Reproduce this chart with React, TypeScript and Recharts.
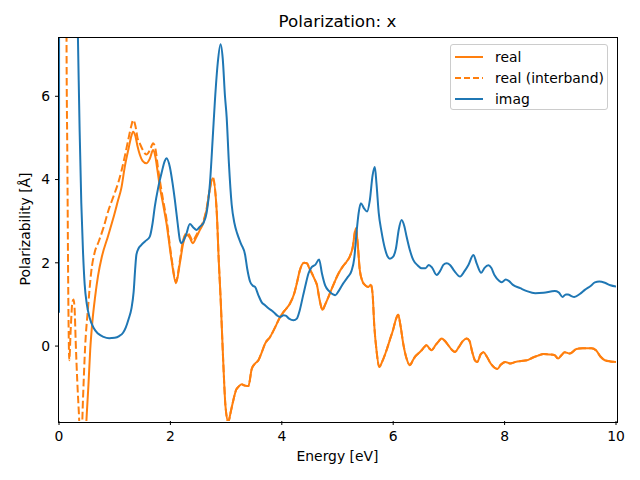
import { Line, LineChart, XAxis, YAxis } from "recharts"

const ORANGE = "#ff7f0e"
const BLUE = "#1f77b4"
const FONT = "DejaVu Sans, sans-serif"

const xTicks = [0, 2, 4, 6, 8, 10]
const yTicks = [0, 2, 4, 6]

// imag part
const imagE = [
    0, 0.01, 0.1, 0.2, 0.28, 0.34, 0.37, 0.4, 0.43, 0.46, 0.5, 0.55, 0.62, 0.7, 0.8, 0.9, 1.0, 1.08, 1.15, 1.2,
    1.25, 1.3, 1.34, 1.37, 1.39, 1.43, 1.48, 1.55, 1.63, 1.68, 1.72, 1.78, 1.84, 1.9, 1.93, 1.99, 2.04, 2.08,
    2.13, 2.17, 2.2, 2.24, 2.28, 2.35, 2.41, 2.47, 2.53, 2.59, 2.65, 2.71, 2.76, 2.8, 2.85, 2.9, 2.94, 2.98,
    3.01, 3.05, 3.1, 3.15, 3.2, 3.27, 3.34, 3.38, 3.43, 3.48, 3.52, 3.58, 3.64, 3.7, 3.76, 3.85, 3.92, 3.97,
    4.03, 4.07, 4.13, 4.21, 4.27, 4.32, 4.38, 4.42, 4.48, 4.54, 4.6, 4.67, 4.72, 4.78, 4.85, 4.92, 4.96, 5.02,
    5.1, 5.18, 5.25, 5.3, 5.34, 5.38, 5.42, 5.48, 5.53, 5.58, 5.63, 5.67, 5.7, 5.74, 5.79, 5.85, 5.9, 5.94,
    6.0, 6.05, 6.1, 6.15, 6.2, 6.24, 6.3, 6.36, 6.43, 6.51, 6.58, 6.64, 6.7, 6.78, 6.85, 6.9, 6.96, 7.02,
    7.1, 7.2, 7.28, 7.35, 7.44, 7.5, 7.58, 7.64, 7.71, 7.76, 7.82, 7.9, 7.95, 8.02, 8.08, 8.15, 8.28, 8.4,
    8.55, 8.7, 8.9, 8.97, 9.04, 9.1, 9.14, 9.2, 9.25, 9.35, 9.44, 9.55, 9.62, 9.7, 9.8, 9.9, 10.0,
]
const imagV = [
    0.8, 60, 40, 20, 11, 7.4, 5.2, 3.45, 2.3, 1.5, 1.0, 0.68, 0.44, 0.3, 0.22, 0.19, 0.2, 0.24, 0.32, 0.45,
    0.65, 0.9, 1.3, 1.9, 2.2, 2.35, 2.43, 2.52, 2.63, 2.95, 3.35, 3.8, 4.15, 4.45, 4.51, 4.3, 3.9, 3.51,
    2.95, 2.55, 2.47, 2.55, 2.67, 2.93, 2.85, 2.79, 2.87, 2.95, 3.2, 3.91, 5.0, 5.91, 6.8, 7.25, 6.9, 6.0,
    5.5, 4.4, 3.4, 2.95, 2.7, 2.45, 2.2, 1.85, 1.55, 1.45, 1.42, 1.22, 1.05, 0.98, 0.91, 0.82, 0.73, 0.7,
    0.74, 0.73, 0.66, 0.62, 0.66, 0.85, 1.2, 1.43, 1.75, 1.9, 1.95, 2.08, 1.75, 1.45, 1.32, 1.24, 1.22, 1.32,
    1.5, 1.65, 1.8, 2.1, 2.7, 3.2, 3.43, 3.3, 3.23, 3.5, 4.1, 4.3, 3.9, 3.2, 2.75, 2.35, 2.15, 2.1,
    2.15, 2.35, 2.8, 3.03, 2.88, 2.63, 2.3, 2.07, 1.95, 1.87, 1.87, 1.95, 1.88, 1.71, 1.82, 1.95, 1.99, 1.95,
    1.8, 1.67, 1.8, 1.95, 2.19, 1.98, 1.76, 1.88, 1.94, 1.88, 1.7, 1.57, 1.53, 1.6, 1.56, 1.47, 1.39, 1.32,
    1.27, 1.28, 1.32, 1.29, 1.18, 1.24, 1.24, 1.2, 1.18, 1.25, 1.35, 1.45, 1.53, 1.55, 1.52, 1.46, 1.43,
]

// real part
const realE = [
    0.4, 0.45, 0.5, 0.53, 0.56, 0.6, 0.65, 0.7, 0.77, 0.88, 0.97, 1.06, 1.12, 1.18, 1.25, 1.3, 1.33, 1.37,
    1.41, 1.45, 1.5, 1.57, 1.63, 1.69, 1.73, 1.77, 1.81, 1.87, 1.93, 2.02, 2.1, 2.17, 2.23, 2.3, 2.35, 2.4,
    2.46, 2.53, 2.59, 2.65, 2.7, 2.76, 2.83, 2.87, 2.9, 2.95, 2.99, 3.04, 3.08, 3.13, 3.18, 3.22, 3.28, 3.34,
    3.4, 3.46, 3.52, 3.58, 3.64, 3.7, 3.79, 3.88, 3.97, 4.05, 4.15, 4.22, 4.27, 4.32, 4.36, 4.4, 4.45, 4.5,
    4.54, 4.59, 4.63, 4.68, 4.73, 4.78, 4.84, 4.92, 5.02, 5.1, 5.16, 5.22, 5.27, 5.33, 5.36, 5.4, 5.45, 5.49,
    5.55, 5.6, 5.63, 5.66, 5.7, 5.75, 5.81, 5.88, 5.94, 6.0, 6.05, 6.09, 6.13, 6.18, 6.24, 6.3, 6.35, 6.39,
    6.45, 6.51, 6.56, 6.6, 6.65, 6.69, 6.76, 6.82, 6.87, 6.93, 7.0, 7.06, 7.11, 7.18, 7.25, 7.32, 7.37, 7.42,
    7.47, 7.51, 7.57, 7.62, 7.68, 7.75, 7.82, 7.87, 7.93, 8.01, 8.1, 8.2, 8.3, 8.4, 8.5, 8.6, 8.7, 8.8, 8.9,
    8.96, 9.02, 9.08, 9.17, 9.29, 9.4, 9.56, 9.64, 9.72, 9.8, 9.9, 10.0,
]
const realV = [
    -5, -3, -1.6, -0.9, -0.1, 0.6, 1.2, 1.68, 2.15, 2.64, 3.05, 3.5, 3.8, 4.3, 4.75, 5.05, 5.15, 5.05,
    4.8, 4.6, 4.45, 4.39, 4.5, 4.71, 4.55, 4.2, 3.83, 3.4, 2.95, 2.07, 1.51, 1.99, 2.47, 2.67, 2.6, 2.47,
    2.6, 2.79, 2.95, 3.27, 3.7, 4.03, 3.27, 2.0, 1.19, -0.42, -1.46, -1.82, -1.6, -1.3, -1.05, -0.98, -0.92, -0.95,
    -0.96, -0.55, -0.42, -0.34, -0.15, 0.06, 0.22, 0.45, 0.7, 0.85, 1.03, 1.25, 1.51, 1.8, 1.95, 2.0, 1.99, 1.85,
    1.75, 1.6, 1.47, 1.1, 0.87, 1.0, 1.19, 1.45, 1.75, 1.92, 2.02, 2.15, 2.35, 2.83, 2.5, 1.83, 1.55, 1.47,
    1.42, 1.47, 1.25, 0.5, -0.1, -0.5, -0.35, -0.1, 0.15, 0.4, 0.65, 0.75, 0.5, 0.06, -0.3, -0.46, -0.35, -0.26,
    -0.18, -0.1, -0.02, 0.02, -0.06, -0.1, 0.02, 0.12, 0.18, 0.12, 0.0, -0.1, -0.14, -0.02, 0.12, 0.18, 0.12, -0.15,
    -0.35, -0.38, -0.2, -0.15, -0.25, -0.42, -0.52, -0.55, -0.45, -0.38, -0.42, -0.38, -0.36, -0.34, -0.28, -0.23, -0.19, -0.2, -0.22,
    -0.3, -0.22, -0.15, -0.18, -0.07, -0.05, -0.05, -0.1, -0.25, -0.34, -0.37, -0.38,
]

// real (interband) below 2.8 eV; above it follows the real curve
const interE = [
    0.05, 0.12, 0.135, 0.15, 0.165, 0.185, 0.21, 0.24, 0.26, 0.28, 0.3, 0.33, 0.36, 0.38, 0.4, 0.43, 0.47,
    0.52, 0.58, 0.64, 0.71, 0.8, 0.89, 0.98, 1.06, 1.12, 1.18, 1.25, 1.3, 1.33, 1.37, 1.41, 1.45, 1.5, 1.57,
    1.63, 1.69, 1.73, 1.78, 1.82, 1.87, 1.93, 2.02, 2.1, 2.17, 2.23, 2.3, 2.35, 2.4, 2.46, 2.53, 2.59, 2.65,
    2.7, 2.76,
]
const interV = [
    40, 20, 7.4, 4.5, 1.5, -0.34, 0.4, 1.05, 1.12, 0.9, 0.1, -0.9, -1.7, -2.3, -2.4, -1.3, 0.0,
    0.9, 1.8, 2.25, 2.5, 2.85, 3.27, 3.6, 3.91, 4.2, 4.55, 5.0, 5.3, 5.43, 5.3, 5.0, 4.87, 4.72, 4.6,
    4.7, 4.87, 4.75, 4.25, 3.9, 3.5, 3.05, 2.12, 1.55, 2.05, 2.55, 2.72, 2.65, 2.52, 2.65, 2.83, 3.0, 3.3,
    3.72, 4.05,
]

const toPoints = (es: number[], vs: number[]) => es.map((e, i) => ({ e, v: vs[i] }))

const imagData = toPoints(imagE, imagV)
const realData = toPoints(realE, realV)
const interData = [...toPoints(interE, interV), ...realData.filter((p) => p.e > 2.8)]

const legendItems = [
    { name: "real", color: ORANGE, dash: undefined },
    { name: "real (interband)", color: ORANGE, dash: "6 3" },
    { name: "imag", color: BLUE, dash: undefined },
]

function PlotLegend() {
    return (
        <div
            style={{
                position: "absolute",
                left: 450,
                top: 44,
                width: 158,
                height: 66,
                border: "1px solid #cccccc",
                borderRadius: 3,
                background: "rgba(255,255,255,0.8)",
                fontFamily: FONT,
                fontSize: 13.9,
                color: "#000",
                boxSizing: "border-box",
                paddingTop: 1,
            }}
        >
            {legendItems.map((it) => (
                <div key={it.name} style={{ display: "flex", alignItems: "center", height: 21.3 }}>
                    <svg width={44} height={10} style={{ flex: "none" }}>
                        <line x1={4} x2={32} y1={5} y2={5} stroke={it.color} strokeWidth={2} strokeDasharray={it.dash} />
                    </svg>
                    <span>{it.name}</span>
                </div>
            ))}
        </div>
    )
}

const tickStyle = { fill: "#000", fontSize: 13.9, fontFamily: FONT }

export default function App() {
    return (
        <div style={{ position: "absolute", left: 0, top: 0, width: 640, height: 480, background: "#fff" }}>
            <LineChart width={640} height={480} margin={{ top: 38, right: 24, bottom: 0, left: 0 }}>
                <XAxis
                    type="number"
                    dataKey="e"
                    domain={[0, 10]}
                    ticks={xTicks}
                    allowDataOverflow
                    height={59}
                    axisLine={false}
                    tickLine={{ stroke: "#000" }}
                    tickSize={4}
                    tickMargin={6}
                    tick={tickStyle}
                />
                <YAxis
                    type="number"
                    domain={[-1.8, 7.4]}
                    ticks={yTicks}
                    allowDataOverflow
                    width={59}
                    axisLine={false}
                    tickLine={{ stroke: "#000" }}
                    tickSize={4}
                    tickMargin={5}
                    tick={tickStyle}
                />
                <Line data={realData} dataKey="v" name="real" type="monotone" stroke={ORANGE} strokeWidth={2} dot={false} isAnimationActive={false} />
                <Line
                    data={interData}
                    dataKey="v"
                    name="real (interband)"
                    type="monotone"
                    stroke={ORANGE}
                    strokeWidth={2}
                    strokeDasharray="7.7 3.3"
                    dot={false}
                    isAnimationActive={false}
                />
                <Line data={imagData} dataKey="v" name="imag" type="monotone" stroke={BLUE} strokeWidth={2} dot={false} isAnimationActive={false} />
            </LineChart>
            {/* axes frame */}
            <div
                style={{
                    position: "absolute",
                    left: 58,
                    top: 37,
                    width: 558,
                    height: 384,
                    border: "1px solid #000",
                    boxSizing: "content-box",
                    pointerEvents: "none",
                }}
            />
            <PlotLegend />
            <div
                style={{
                    position: "absolute",
                    left: 0,
                    width: 675,
                    top: 11,
                    textAlign: "center",
                    fontFamily: FONT,
                    fontSize: 16.7,
                }}
            >
                Polarization: x
            </div>
            <div
                style={{
                    position: "absolute",
                    left: 0,
                    width: 675,
                    top: 448,
                    textAlign: "center",
                    fontFamily: FONT,
                    fontSize: 13.9,
                }}
            >
                Energy [eV]
            </div>
            <div
                style={{
                    position: "absolute",
                    left: 25,
                    top: 229,
                    transform: "translate(-50%, -50%) rotate(-90deg)",
                    whiteSpace: "nowrap",
                    fontFamily: FONT,
                    fontSize: 13.9,
                }}
            >
                Polarizability [Å]
            </div>
        </div>
    )
}
